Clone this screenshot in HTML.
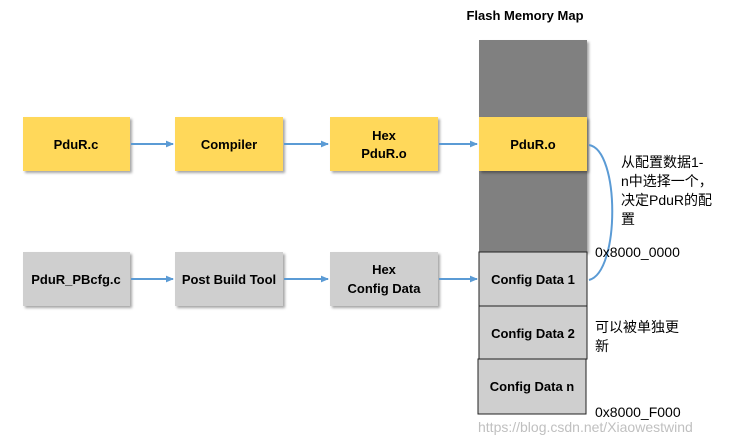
<!DOCTYPE html>
<html><head><meta charset="utf-8"><style>
html,body{margin:0;padding:0;background:#fff;}
svg{display:block}
.t{font-family:"Liberation Sans","Noto Sans CJK SC",sans-serif;font-size:13px;fill:#000;font-weight:bold}
.c{font-family:"Liberation Sans","Noto Sans CJK SC",sans-serif;font-size:14px;fill:#000}
</style></head><body>
<svg width="730" height="443" viewBox="0 0 730 443" xmlns="http://www.w3.org/2000/svg">
<defs>
<filter id="sh" x="-10%" y="-10%" width="130%" height="130%"><feDropShadow dx="2" dy="2" stdDeviation="1.2" flood-color="#000" flood-opacity="0.35"/></filter>
<marker id="ar" markerWidth="4" markerHeight="4" refX="3.5" refY="2" orient="auto"><path d="M0,0.3 L4,2 L0,3.7z" fill="#5b9bd5"/></marker>
</defs>
<text x="525" y="20" class="t" text-anchor="middle">Flash Memory Map</text>
<rect x="479" y="40" width="108" height="212" fill="#808080" filter="url(#sh)"/>
<g filter="url(#sh)">
<rect x="23" y="117" width="107" height="54" fill="#ffd85a"/>
<rect x="175" y="117" width="108" height="54" fill="#ffd85a"/>
<rect x="330" y="117" width="108" height="54" fill="#ffd85a"/>
<rect x="479" y="117" width="108" height="54" fill="#ffd85a"/>
<rect x="23" y="252" width="107" height="54" fill="#cfcfcf"/>
<rect x="175" y="252" width="108" height="54" fill="#cfcfcf"/>
<rect x="330" y="252" width="108" height="54" fill="#cfcfcf"/>
</g>
<rect x="479" y="252" width="108" height="54" fill="#cfcfcf" stroke="#222" stroke-width="1"/>
<rect x="479" y="306" width="108" height="53" fill="#cfcfcf" stroke="#222" stroke-width="1"/>
<rect x="478" y="359" width="108" height="55" fill="#cfcfcf" stroke="#222" stroke-width="1"/>
<g stroke="#5b9bd5" stroke-width="2" fill="none">
<line x1="131" y1="144" x2="173" y2="144" marker-end="url(#ar)"/>
<line x1="284" y1="144" x2="328" y2="144" marker-end="url(#ar)"/>
<line x1="439" y1="144" x2="477" y2="144" marker-end="url(#ar)"/>
<line x1="131" y1="279" x2="173" y2="279" marker-end="url(#ar)"/>
<line x1="284" y1="279" x2="328" y2="279" marker-end="url(#ar)"/>
<line x1="439" y1="279" x2="477" y2="279" marker-end="url(#ar)"/>
<path d="M589,280 C620,272 620,150 589,145"/>
</g>
<text x="76" y="149" class="t" text-anchor="middle">PduR.c</text>
<text x="229" y="149" class="t" text-anchor="middle">Compiler</text>
<text x="384" y="140" class="t" text-anchor="middle">Hex</text>
<text x="384" y="158" class="t" text-anchor="middle">PduR.o</text>
<text x="533" y="149" class="t" text-anchor="middle">PduR.o</text>
<text x="76" y="284" class="t" text-anchor="middle">PduR_PBcfg.c</text>
<text x="229" y="284" class="t" text-anchor="middle">Post Build Tool</text>
<text x="384" y="274" class="t" text-anchor="middle">Hex</text>
<text x="384" y="293" class="t" text-anchor="middle">Config Data</text>
<text x="533" y="284" class="t" text-anchor="middle">Config Data 1</text>
<text x="533" y="338" class="t" text-anchor="middle">Config Data 2</text>
<text x="532" y="391" class="t" text-anchor="middle">Config Data n</text>
<text x="621" y="167" class="c">从配置数据1-</text>
<text x="621" y="186" class="c">n中选择一个，</text>
<text x="621" y="205" class="c">决定PduR的配</text>
<text x="621" y="224" class="c">置</text>
<text x="595" y="257" class="c" font-size="13">0x8000_0000</text>
<text x="595" y="332" class="c">可以被单独更</text>
<text x="595" y="351" class="c">新</text>
<text x="595" y="417" class="c" font-size="13">0x8000_F000</text>
<text x="478" y="432" class="c" font-size="15" style="fill:#c0c0c0">https://blog.csdn.net/Xiaowestwind</text>
</svg>
</body></html>
